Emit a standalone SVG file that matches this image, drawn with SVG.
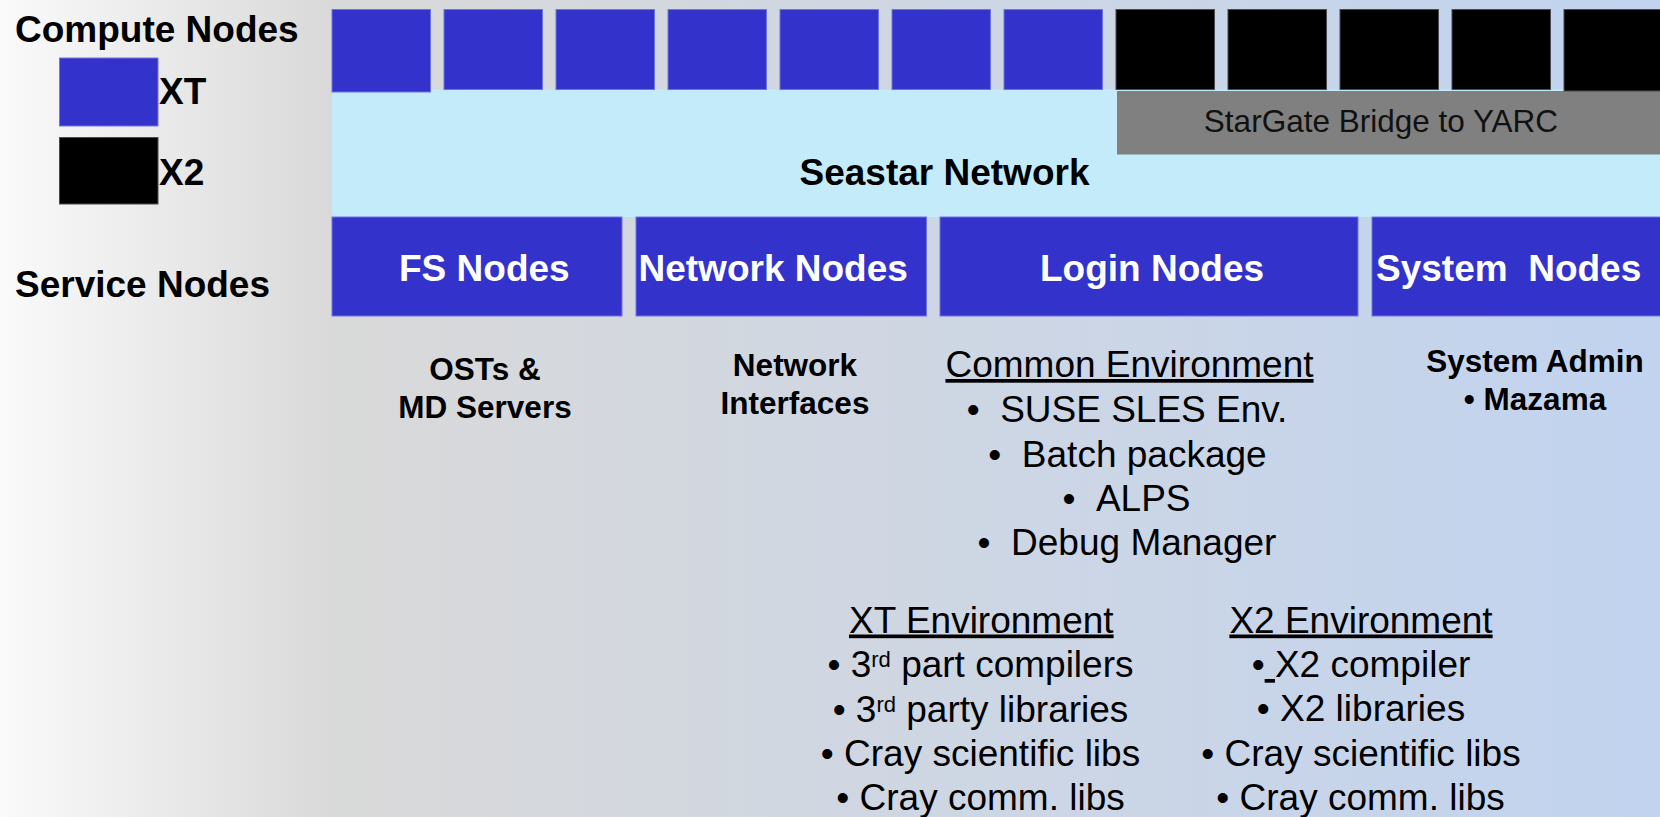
<svg xmlns="http://www.w3.org/2000/svg" width="1660" height="817" viewBox="0 0 1660 817">
<defs>
<linearGradient id="bg" x1="0" y1="0" x2="1" y2="0">
<stop offset="0" stop-color="#fafafa"/>
<stop offset="0.2" stop-color="#d9d9d9"/>
<stop offset="1" stop-color="#c1d3ef"/>
</linearGradient>
</defs>
<style>
.bold{font-family:"Liberation Sans",Arial,sans-serif;font-weight:bold;fill:#000}
.reg{font-family:"Liberation Sans",Arial,sans-serif;font-weight:normal;fill:#000}
.f37{font-size:37px}
.f31{font-size:31.5px}
.mid{text-anchor:middle}
.wh{fill:#ffffff}
.blue{fill:#3333cc;stroke:#7373e6;stroke-width:1}
.blk{fill:#000000;stroke:#4a4a55;stroke-width:1}
.ul{text-decoration:underline}
.sup{font-size:22px}
</style>
<rect id="background" x="0" y="0" width="1660" height="817" fill="url(#bg)"/>

<g id="legend">
<text class="bold f37" x="15" y="42">Compute Nodes</text>
<rect class="blue" x="59.5" y="58" width="98.5" height="68"/>
<text class="bold f37" x="159" y="104">XT</text>
<rect class="blk" x="59.5" y="137.5" width="98.5" height="66.5"/>
<text class="bold f37" x="159" y="185">X2</text>
<text class="bold f37" x="15" y="297">Service Nodes</text>
</g>

<g id="seastar-network">
<rect x="332" y="89.5" width="1328" height="127.5" fill="#c4ebfa"/>
<text class="bold f37" x="799.5" y="185">Seastar Network</text>
</g>

<g id="stargate-bridge">
<rect x="1117" y="91" width="543" height="63.5" fill="#808080"/>
<text class="reg mid" x="1381" y="131.5" style="font-size:31.5px;fill:#111">StarGate Bridge to YARC</text>
</g>

<g id="compute-nodes">
<rect id="xt-node-1" class="blue" x="332" y="9.5" width="98.5" height="82.5"/>
<rect id="xt-node-2" class="blue" x="444" y="9.5" width="98.5" height="80"/>
<rect id="xt-node-3" class="blue" x="556" y="9.5" width="98.5" height="80"/>
<rect id="xt-node-4" class="blue" x="668" y="9.5" width="98.5" height="80"/>
<rect id="xt-node-5" class="blue" x="780" y="9.5" width="98.5" height="80"/>
<rect id="xt-node-6" class="blue" x="892" y="9.5" width="98.5" height="80"/>
<rect id="xt-node-7" class="blue" x="1004" y="9.5" width="98.5" height="80"/>
<rect id="x2-node-1" class="blk" x="1116" y="9.5" width="98.5" height="80"/>
<rect id="x2-node-2" class="blk" x="1228" y="9.5" width="98.5" height="80"/>
<rect id="x2-node-3" class="blk" x="1340" y="9.5" width="98.5" height="80"/>
<rect id="x2-node-4" class="blk" x="1452" y="9.5" width="98.5" height="80"/>
<rect id="x2-node-5" class="blk" x="1564" y="9.5" width="98.5" height="81.5"/>
</g>

<g id="fs-nodes">
<rect class="blue" x="332" y="217" width="290" height="99"/>
<text class="bold f37 wh" x="399" y="281">FS Nodes</text>
<text class="bold f31 mid" x="485" y="380">OSTs &amp;</text>
<text class="bold f31 mid" x="485" y="418">MD Servers</text>
</g>

<g id="network-nodes">
<rect class="blue" x="636" y="217" width="290.5" height="99"/>
<text class="bold f37 wh" x="638.5" y="281">Network Nodes</text>
<text class="bold f31 mid" x="795" y="376">Network</text>
<text class="bold f31 mid" x="795" y="414">Interfaces</text>
</g>

<g id="login-nodes">
<rect class="blue" x="940" y="217" width="418" height="99"/>
<text class="bold f37 wh" x="1040" y="281">Login Nodes</text>
<text class="reg f37 mid ul" x="1129.5" y="377">Common Environment</text>
<text class="reg f37 mid" x="1127" y="422">•&#160;&#160;SUSE SLES Env.</text>
<text class="reg f37 mid" x="1127.5" y="466.5">•&#160;&#160;Batch package</text>
<text class="reg f37 mid" x="1126.5" y="510.5">•&#160;&#160;ALPS</text>
<text class="reg f37 mid" x="1127" y="554.5">•&#160;&#160;Debug Manager</text>
</g>

<g id="system-nodes">
<rect class="blue" x="1372" y="217" width="290" height="99"/>
<text class="bold f37 wh" x="1376" y="281">System&#160;&#160;Nodes</text>
<text class="bold f31 mid" x="1535" y="372">System Admin</text>
<text class="bold f31 mid" x="1535" y="409.5">•&#160;Mazama</text>
</g>

<g id="xt-environment">
<text class="reg f37 mid ul" x="981.3" y="632.5">XT Environment</text>
<text class="reg f37 mid" x="980.5" y="677">•&#160;3<tspan class="sup" dy="-10">rd</tspan><tspan dy="10">&#160;part compilers</tspan></text>
<text class="reg f37 mid" x="980.5" y="721.5">•&#160;3<tspan class="sup" dy="-10">rd</tspan><tspan dy="10">&#160;party libraries</tspan></text>
<text class="reg f37 mid" x="980.5" y="766">•&#160;Cray scientific libs</text>
<text class="reg f37 mid" x="980.5" y="810">•&#160;Cray comm. libs</text>
</g>

<g id="x2-environment">
<text class="reg f37 mid ul" x="1361" y="632.5">X2 Environment</text>
<text class="reg f37 mid" x="1361" y="677">•<tspan class="ul">&#160;</tspan>X2 compiler</text>
<text class="reg f37 mid" x="1361" y="721">•&#160;X2 libraries</text>
<text class="reg f37 mid" x="1361" y="766">•&#160;Cray scientific libs</text>
<text class="reg f37 mid" x="1360.5" y="810">•&#160;Cray comm. libs</text>
</g>

<g id="connectors"/>
</svg>
